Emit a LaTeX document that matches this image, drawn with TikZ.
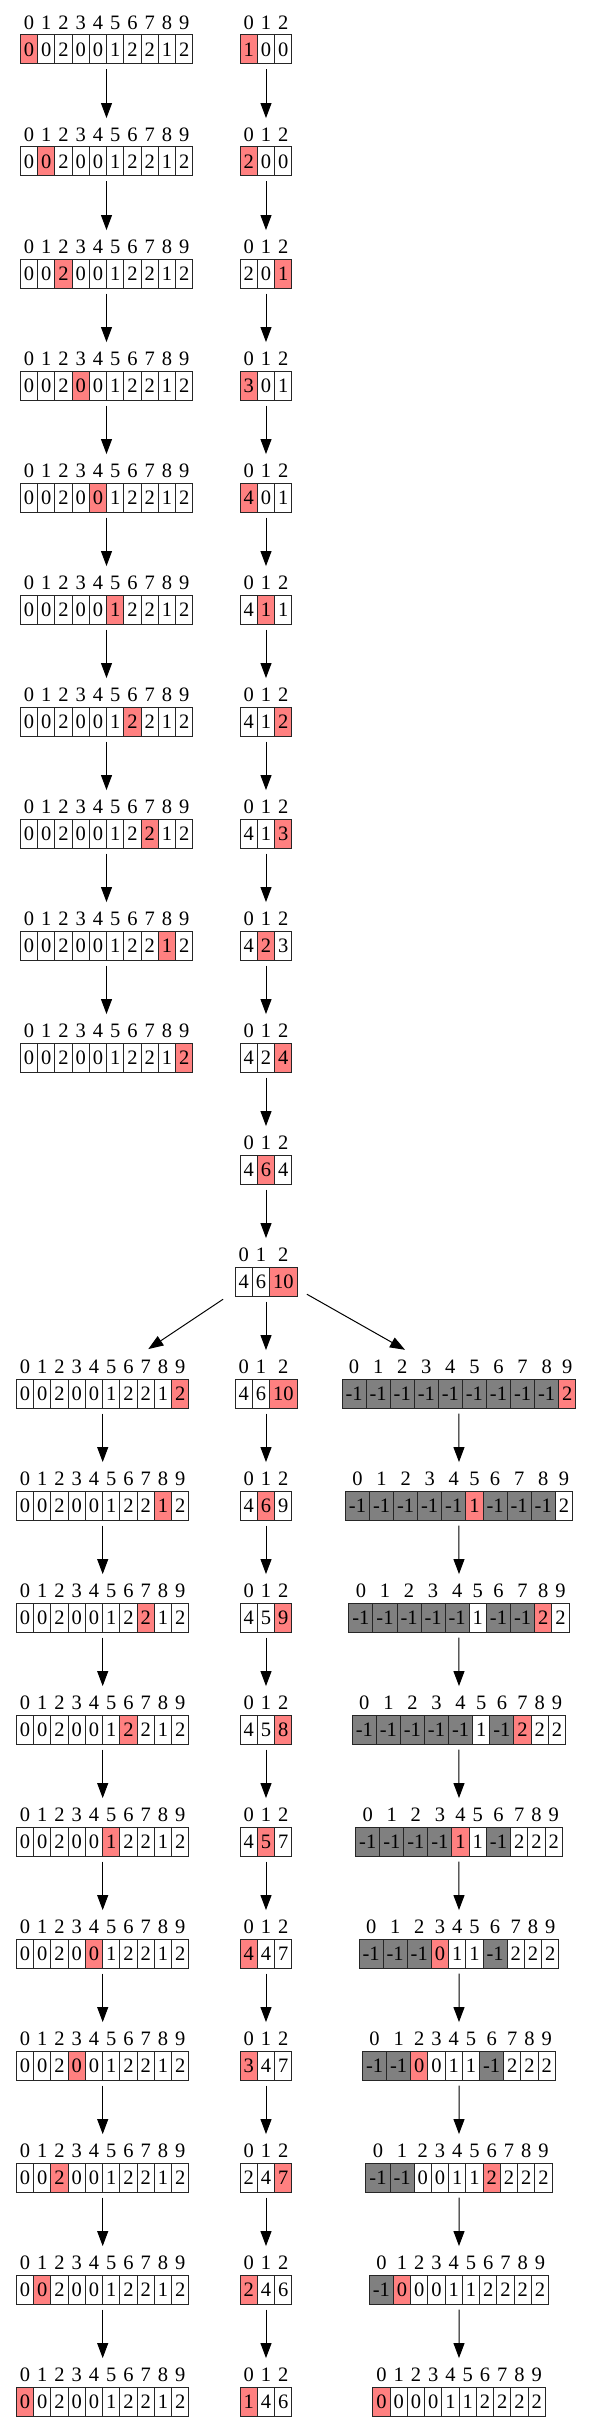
\documentclass[tikz,border=0pt]{standalone}
\usepackage{fontspec}
\setmainfont{Liberation Serif}
\usetikzlibrary{arrows.meta,fit}

\definecolor{hl}{HTML}{FF8080}
\definecolor{gy}{HTML}{808080}
\definecolor{wt}{HTML}{FFFFFF}

\newcommand\cellfont{\fontsize{20.5}{24}\selectfont}
\def\cellpad{3.5}

% ---- one array: #1 name, #2 centre x, #3 row, #4 values, #5 marked index ----
% (cell width from the font: digit 0.5em, minus sign 0.333em)
\newcommand\drawarr[5]{%
  \edef\arrlst{#4}%
  \gdef\arrsum{0}%
  \foreach \v [count=\k] in \arrlst {%
    \pgfmathsetmacro\w{\arrsum+2*\cellpad+(\v<0 ? 17.08 : (\v>9 ? 20.5 : 10.25))}%
    \xdef\arrsum{\w}\xdef\arrn{\k}}%
  \coordinate (#1-0) at ({#2-\arrsum/2},{\rowy+\rowdy*#3});
  \foreach \v [count=\k] in \arrlst {%
    \pgfmathtruncatemacro\ix{\k-1}%
    \def\cl{wt}\ifnum\v=-1\relax\def\cl{gy}\fi
    \ifnum\ix=#5\relax\def\cl{hl}\fi
    \node[cell,fill=\cl] (#1-\k) at (#1-\ix.east) {\v};
    \node[idx] (#1-i\k) at ([yshift=26.5pt]#1-\k.center) {\ix};
  }
  \node[fit=(#1-1)(#1-\arrn)(#1-i1),inner sep=0pt] (#1) {};
}

\begin{document}
\begin{tikzpicture}[x=1pt,y=-1pt,
    cell/.style={draw=black!85,line width=1pt,anchor=west,outer sep=0pt,
      inner xsep=\cellpad pt,inner ysep=0pt,minimum height=29pt,
      text height=13.5pt,text depth=0pt,font=\cellfont},
    idx/.style={inner sep=0pt,outer sep=0pt,text height=13.5pt,
      text depth=0pt,font=\cellfont},
    arr/.style={-{Triangle[length=15pt,width=11pt]},line width=1pt,
      shorten <=5.3pt,shorten >=10pt},
    diag/.style={arr,shorten <=0pt,shorten >=0pt}]

  \useasboundingbox (0,0) rectangle (591,2427);

  % ===== row grid =====
  \def\rowy{49.5}\def\rowdy{112}
  \def\srcvals{0,0,2,0,0,1,2,2,1,2}

  % ---- input array, counting pass ----
  \foreach \i in {0,...,9}
    \drawarr{a\i}{106.5}{\i}{\srcvals}{\i};

  % ---- count array ----
  \drawarr{c0}{266}{0}{1,0,0}{0}
  \drawarr{c1}{266}{1}{2,0,0}{0}
  \drawarr{c2}{266}{2}{2,0,1}{2}
  \drawarr{c3}{266}{3}{3,0,1}{0}
  \drawarr{c4}{266}{4}{4,0,1}{0}
  \drawarr{c5}{266}{5}{4,1,1}{1}
  \drawarr{c6}{266}{6}{4,1,2}{2}
  \drawarr{c7}{266}{7}{4,1,3}{2}
  \drawarr{c8}{266}{8}{4,2,3}{1}
  \drawarr{c9}{266}{9}{4,2,4}{2}
  \drawarr{c10}{266}{10}{4,6,4}{1}
  \drawarr{c11}{266}{11}{4,6,10}{2}

  % ---- input array, placing pass ----
  \foreach \i [evaluate=\i as \h using int(21-\i)] in {12,...,21}
    \drawarr{a\i}{102.7}{\i}{\srcvals}{\h};

  % ---- count array, placing pass ----
  \drawarr{c12}{266}{12}{4,6,10}{2}
  \drawarr{c13}{266}{13}{4,6,9}{1}
  \drawarr{c14}{266}{14}{4,5,9}{2}
  \drawarr{c15}{266}{15}{4,5,8}{2}
  \drawarr{c16}{266}{16}{4,5,7}{1}
  \drawarr{c17}{266}{17}{4,4,7}{0}
  \drawarr{c18}{266}{18}{3,4,7}{0}
  \drawarr{c19}{266}{19}{2,4,7}{2}
  \drawarr{c20}{266}{20}{2,4,6}{0}
  \drawarr{c21}{266}{21}{1,4,6}{0}

  % ---- output array ----
  \drawarr{b12}{459}{12}{-1,-1,-1,-1,-1,-1,-1,-1,-1,2}{9}
  \drawarr{b13}{459}{13}{-1,-1,-1,-1,-1,1,-1,-1,-1,2}{5}
  \drawarr{b14}{459}{14}{-1,-1,-1,-1,-1,1,-1,-1,2,2}{8}
  \drawarr{b15}{459}{15}{-1,-1,-1,-1,-1,1,-1,2,2,2}{7}
  \drawarr{b16}{459}{16}{-1,-1,-1,-1,1,1,-1,2,2,2}{4}
  \drawarr{b17}{459}{17}{-1,-1,-1,0,1,1,-1,2,2,2}{3}
  \drawarr{b18}{459}{18}{-1,-1,0,0,1,1,-1,2,2,2}{2}
  \drawarr{b19}{459}{19}{-1,-1,0,0,1,1,2,2,2,2}{6}
  \drawarr{b20}{459}{20}{-1,0,0,0,1,1,2,2,2,2}{1}
  \drawarr{b21}{459}{21}{0,0,0,0,1,1,2,2,2,2}{0}

  % ---- step arrows ----
  \foreach \i [evaluate=\i as \j using int(\i+1)] in {0,...,8}
    \draw[arr] (a\i) -- (a\j);
  \foreach \i [evaluate=\i as \j using int(\i+1)] in {0,...,10}
    \draw[arr] (c\i) -- (c\j);
  \foreach \i [evaluate=\i as \j using int(\i+1)] in {12,...,20}{
    \draw[arr] (a\i) -- (a\j);
    \draw[arr] (c\i) -- (c\j);
    \draw[arr] (b\i) -- (b\j);
  }

  % ---- branches from the summed counts ----
  \draw[diag] ([shift={(-11.7,3)}]c11.south west) -- ([shift={(45.6,-11)}]a12.north);
  \draw[arr] (c11) -- (c12);
  \draw[diag] ([shift={(9.7,-2)}]c11.south east) -- ([shift={(-54,-10.25)}]b12.north);

\end{tikzpicture}
\end{document}
